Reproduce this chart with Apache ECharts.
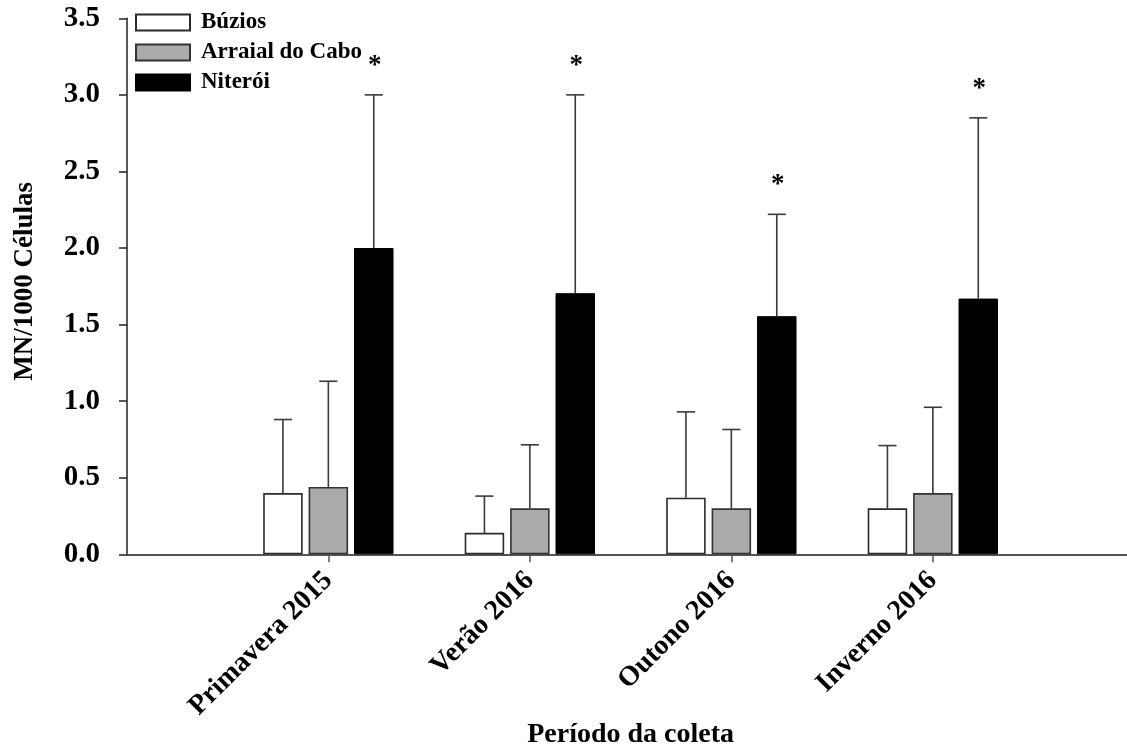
<!DOCTYPE html>
<html>
<head>
<meta charset="utf-8">
<script src="https://cdn.jsdelivr.net/npm/echarts@6/dist/echarts.min.js"></script>
<style>
html,body{margin:0;padding:0;background:#fff;}
#chart{width:1127px;height:751px;}
</style>
</head>
<body>
<div id="chart"></div>
<script>
// ---- data ----
var categories = ['Primavera 2015', 'Verão 2016', 'Outono 2016', 'Inverno 2016'];
var seriesNames = ['Búzios', 'Arraial do Cabo', 'Niterói'];
var buzios = [0.40, 0.14, 0.37, 0.30];
var buziosSD = [0.48, 0.24, 0.56, 0.41];
var arraial = [0.44, 0.30, 0.30, 0.40];
var arraialSD = [0.69, 0.415, 0.515, 0.56];
var niteroi = [2.00, 1.705, 1.555, 1.67];
var niteroiSD = [1.00, 1.295, 0.665, 1.18];
var niteroiMarks = ['*', '*', '*', '*'];
var yTicks = [0, 0.5, 1.0, 1.5, 2.0, 2.5, 3.0, 3.5];

// ---- layout constants ----
var FONT = 'Liberation Serif';
var BAR_FRAC = 0.196;   // bar width as fraction of category band
var GAP_FRAC = 0.15;    // gap as fraction of bar width
var CAP_FRAC = 0.045;   // half cap width as fraction of band

var chart = echarts.init(document.getElementById('chart'), null, {renderer: 'canvas'});

function errSeries(k, means, sds, marks) {
  var data = means.map(function (m, i) { return [i, m, sds[i], marks ? marks[i] : '']; });
  return {
    type: 'custom',
    name: seriesNames[k] + ' err',
    xAxisIndex: 1, yAxisIndex: 1,
    z: 5,
    encode: {x: 0, y: 1},
    data: data,
    renderItem: function (params, api) {
      var idx = api.value(0), mean = api.value(1), sd = api.value(2);
      var mark = data[params.dataIndex][3];
      var band = api.size([1, 0])[0];
      var bw = band * BAR_FRAC;
      var off = (k - 1) * bw * (1 + GAP_FRAC);
      var base = api.coord([idx, mean]);
      var top = api.coord([idx, mean + sd]);
      var x = base[0] + off;
      var hc = band * CAP_FRAC;
      var st = {stroke: '#3a3a3a', lineWidth: 1.6};
      var children = [
        {type: 'line', shape: {x1: x, y1: base[1], x2: x, y2: top[1]}, style: st},
        {type: 'line', shape: {x1: x - hc, y1: top[1], x2: x + hc, y2: top[1]}, style: st}
      ];
      if (mark) {
        children.push({type: 'text', style: {text: mark, x: x + 1, y: top[1] - 29, align: 'center', verticalAlign: 'middle',
          font: 'bold 27px ' + FONT, fill: '#000'}});
      }
      return {type: 'group', children: children};
    }
  };
}

var barCommon = {
  type: 'bar', xAxisIndex: 1, yAxisIndex: 1,
  barWidth: (BAR_FRAC * 100) + '%', barGap: (GAP_FRAC * 100) + '%'
};

var option = {
  animation: false,
  backgroundColor: '#fff',
  legend: {
    data: seriesNames,
    orient: 'vertical',
    left: 135, top: 11, padding: 0,
    itemWidth: 54, itemHeight: 16, itemGap: 7,
    icon: 'rect',
    textStyle: {fontFamily: FONT, fontWeight: 'bold', fontSize: 23, color: '#000', padding: [0, 0, 0, 6], lineHeight: 22}
  },
  grid: [
    {left: 127, right: 0, top: 18.3, bottom: 196.7, containLabel: false, outerBoundsMode: 'none'},
    {left: 227.6, right: 93.4, top: 18.3, bottom: 196.7, containLabel: false, outerBoundsMode: 'none'}
  ],
  xAxis: [
    {type: 'value', gridIndex: 0, min: 0, max: 1,
      axisLine: {show: true, lineStyle: {color: '#555', width: 2}},
      axisTick: {show: false}, axisLabel: {show: false}, splitLine: {show: false}},
    {type: 'category', gridIndex: 1, data: categories,
      axisLine: {show: false},
      axisTick: {show: true, alignWithLabel: true, length: 8, lineStyle: {color: '#555', width: 1.5}},
      axisLabel: {rotate: 45, margin: 22, fontFamily: FONT, fontWeight: 'bold', fontSize: 28, color: '#000'},
      name: 'Período da coleta', nameLocation: 'middle', nameGap: 166, nameMoveOverlap: false,
      nameTextStyle: {fontFamily: FONT, fontWeight: 'bold', fontSize: 28, color: '#000'},
      splitLine: {show: false}}
  ],
  yAxis: [
    {type: 'value', gridIndex: 0, min: 0, max: 3.5, interval: 0.5,
      axisLine: {show: true, lineStyle: {color: '#222', width: 1.5}},
      axisTick: {show: true, inside: false, length: 8, lineStyle: {color: '#222', width: 1.5}},
      axisLabel: {margin: 27, fontFamily: FONT, fontWeight: 'bold', fontSize: 29, color: '#000',
        formatter: function (v) { return yTicks.indexOf(v) >= 0 ? v.toFixed(1) : ''; }},
      name: 'MN/1000 Células', nameLocation: 'middle', nameGap: 88, nameMoveOverlap: false,
      nameTextStyle: {fontFamily: FONT, fontWeight: 'bold', fontSize: 27, color: '#000', padding: [0, 0, 0, 10]},
      splitLine: {show: false}},
    {type: 'value', gridIndex: 1, min: 0, max: 3.5, interval: 0.5, show: false, splitLine: {show: false}}
  ],
  series: [
    Object.assign({}, barCommon, {name: seriesNames[0], data: buzios,
      itemStyle: {color: '#ffffff', borderColor: '#2a2a2a', borderWidth: 1.6}}),
    Object.assign({}, barCommon, {name: seriesNames[1], data: arraial,
      itemStyle: {color: '#aaaaaa', borderColor: '#333333', borderWidth: 1.6}}),
    Object.assign({}, barCommon, {name: seriesNames[2], data: niteroi,
      itemStyle: {color: '#000000', borderColor: '#000000', borderWidth: 1}}),
    errSeries(0, buzios, buziosSD, null),
    errSeries(1, arraial, arraialSD, null),
    errSeries(2, niteroi, niteroiSD, niteroiMarks)
  ]
};
chart.setOption(option);
</script>
</body>
</html>
